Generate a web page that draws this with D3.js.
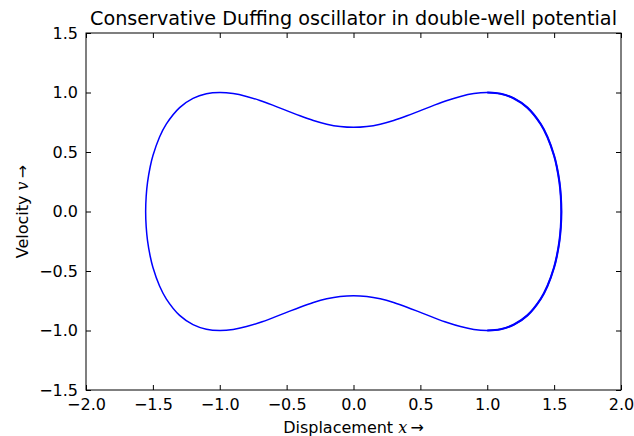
<!DOCTYPE html>
<html>
<head>
<meta charset="utf-8">
<script src="https://cdn.jsdelivr.net/npm/d3@7"></script>
<style>
  body { margin: 0; background: #fff; }
  text { font-family: "DejaVu Sans", sans-serif; fill: #000; }
  .math { font-family: "DejaVu Serif", serif; font-style: italic; }
</style>
</head>
<body>
<script>
// Phase portrait points (closed loop, upper half right->left, then lower half left->right)
var xs = [1.554, 1.55, 1.54, 1.52, 1.50, 1.45, 1.40, 1.30, 1.20, 1.10, 1.00, 0.90, 0.80, 0.70, 0.60, 0.50, 0.40, 0.30, 0.20, 0.10, 0.00,
          -0.10, -0.20, -0.30, -0.40, -0.50, -0.60, -0.70, -0.80, -0.90, -1.00, -1.10, -1.20, -1.30, -1.40, -1.45, -1.50, -1.52, -1.54, -1.55, -1.554,
          -1.55, -1.54, -1.52, -1.50, -1.45, -1.40, -1.30, -1.20, -1.10, -1.00, -0.90, -0.80, -0.70, -0.60, -0.50, -0.40, -0.30, -0.20, -0.10, 0.00,
          0.10, 0.20, 0.30, 0.40, 0.50, 0.60, 0.70, 0.80, 0.90, 1.00, 1.10, 1.20, 1.30, 1.40, 1.45, 1.50, 1.52, 1.54, 1.55];
var vs = [0.000, 0.128, 0.244, 0.376, 0.468, 0.626, 0.734, 0.873, 0.950, 0.989, 1.000, 0.991, 0.967, 0.933, 0.892, 0.848, 0.804, 0.765, 0.734, 0.714, 0.707,
          0.714, 0.734, 0.765, 0.804, 0.848, 0.892, 0.933, 0.967, 0.991, 1.000, 0.989, 0.950, 0.873, 0.734, 0.626, 0.468, 0.376, 0.244, 0.128, 0.000,
          -0.128, -0.244, -0.376, -0.468, -0.626, -0.734, -0.873, -0.950, -0.989, -1.000, -0.991, -0.967, -0.933, -0.892, -0.848, -0.804, -0.765, -0.734, -0.714, -0.707,
          -0.714, -0.734, -0.765, -0.804, -0.848, -0.892, -0.933, -0.967, -0.991, -1.000, -0.989, -0.950, -0.873, -0.734, -0.626, -0.468, -0.376, -0.244, -0.128];

var xTicks = [-2.0, -1.5, -1.0, -0.5, 0.0, 0.5, 1.0, 1.5, 2.0];
var yTicks = [-1.5, -1.0, -0.5, 0.0, 0.5, 1.0, 1.5];

var svgWidth = 634;
var svgHeight = 436;

var chartMargin = { top: 33, right: 13, bottom: 46, left: 86 };
var chartWidth = svgWidth - chartMargin.left - chartMargin.right;
var chartHeight = svgHeight - chartMargin.top - chartMargin.bottom;

var svg = d3.select("body")
  .append("svg")
  .attr("width", svgWidth)
  .attr("height", svgHeight);

var chartGroup = svg.append("g")
  .attr("transform", `translate(${chartMargin.left}, ${chartMargin.top})`);

var xScale = d3.scaleLinear().domain([-2, 2]).range([0, chartWidth]);
var yScale = d3.scaleLinear().domain([-1.5, 1.5]).range([chartHeight, 0]);

var fmt = d3.format(".1f");

// classic matplotlib look: ticks pointing inward on all four sides
function styleAxis(g) {
  g.select(".domain").remove();
  g.selectAll(".tick line").attr("stroke", "#000").attr("stroke-width", 1);
  g.selectAll(".tick text").style("font-size", "16px").style("font-family", "DejaVu Sans");
}

chartGroup.append("g")
  .attr("transform", `translate(0, ${chartHeight})`)
  .call(d3.axisBottom(xScale).tickValues(xTicks).tickFormat(fmt).tickSizeInner(-5).tickSizeOuter(0).tickPadding(9))
  .call(styleAxis);

chartGroup.append("g")
  .call(d3.axisTop(xScale).tickValues(xTicks).tickFormat("").tickSizeInner(-5).tickSizeOuter(0))
  .call(styleAxis);

chartGroup.append("g")
  .call(d3.axisLeft(yScale).tickValues(yTicks).tickFormat(fmt).tickSizeInner(-5).tickSizeOuter(0).tickPadding(8))
  .call(styleAxis);

chartGroup.append("g")
  .attr("transform", `translate(${chartWidth}, 0)`)
  .call(d3.axisRight(yScale).tickValues(yTicks).tickFormat("").tickSizeInner(-5).tickSizeOuter(0))
  .call(styleAxis);

var pts = xs.map((x, i) => [x, vs[i]]);
var line = d3.line().x(d => xScale(d[0])).y(d => yScale(d[1]));

chartGroup.append("path")
  .datum(pts)
  .attr("fill", "none")
  .attr("stroke", "#0000ff")
  .attr("stroke-width", 1.5)
  .attr("d", line.curve(d3.curveCatmullRomClosed));

// right lobe was traced over several times, so it looks a bit heavier
var rightLobe = pts.slice(pts.length - 10).concat(pts.slice(0, 11));
chartGroup.append("path")
  .datum(rightLobe)
  .attr("fill", "none")
  .attr("stroke", "#0000ff")
  .attr("stroke-width", 2.1)
  .attr("d", line.curve(d3.curveCatmullRom));

// frame
chartGroup.append("rect")
  .attr("width", chartWidth)
  .attr("height", chartHeight)
  .attr("fill", "none")
  .attr("stroke", "#000")
  .attr("stroke-width", 1);

// title
svg.append("text")
  .attr("x", chartMargin.left + chartWidth / 2)
  .attr("y", 25)
  .attr("text-anchor", "middle")
  .style("font-size", "19.2px")
  .text("Conservative Duffing oscillator in double-well potential");

// x label
var xl = svg.append("text")
  .attr("x", chartMargin.left + chartWidth / 2)
  .attr("y", 433)
  .attr("text-anchor", "middle")
  .style("font-size", "16px");
xl.append("tspan").text("Displacement ");
xl.append("tspan").attr("class", "math").text("x");
xl.append("tspan").text("\u2009\u2192");

// y label
var yl = svg.append("text")
  .attr("transform", `translate(28, ${chartMargin.top + chartHeight / 2}) rotate(-90)`)
  .attr("text-anchor", "middle")
  .style("font-size", "16px");
yl.append("tspan").text("Velocity ");
yl.append("tspan").attr("class", "math").text("v");
yl.append("tspan").text("\u2009\u2192");
</script>
</body>
</html>
